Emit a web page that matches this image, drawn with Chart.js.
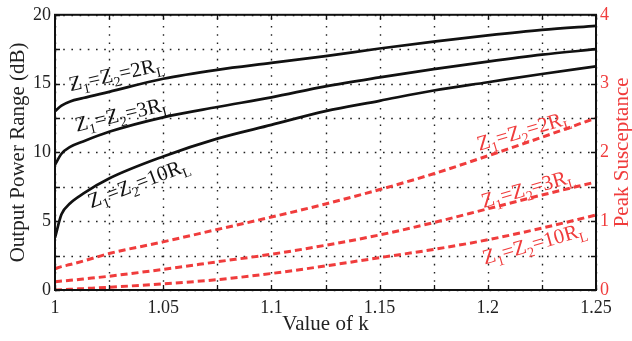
<!DOCTYPE html>
<html>
<head>
<meta charset="utf-8">
<script src="https://cdn.jsdelivr.net/npm/chart.js@4.4.1/dist/chart.umd.min.js"></script>
<style>
  body { margin: 0; background: #fff; }
  canvas { display: block; }
</style>
</head>
<body>
<canvas id="myChart" width="632" height="341"></canvas>
<script>
// sample points of k
const kValues = [1, 1.003, 1.007, 1.013, 1.025, 1.05, 1.075, 1.1, 1.125, 1.15, 1.175, 1.2, 1.225, 1.25]

// output power range (dB), left axis
const range2RL = [13.0, 13.4, 13.7, 13.95, 14.4, 15.35, 16.0, 16.5, 17.0, 17.55, 18.05, 18.5, 18.9, 19.2]
const range3RL = [9.1, 9.9, 10.4, 10.8, 11.5, 12.55, 13.3, 14.0, 14.8, 15.45, 16.05, 16.6, 17.1, 17.5]
const range10RL = [3.8, 5.5, 6.3, 7.0, 8.1, 9.7, 11.0, 12.0, 13.0, 13.75, 14.5, 15.1, 15.7, 16.25]

// peak susceptance, right axis
const susc2RL = [0.31, 0.34, 0.37, 0.42, 0.53, 0.70, 0.88, 1.06, 1.25, 1.46, 1.69, 1.95, 2.22, 2.5]
const susc3RL = [0.12, 0.13, 0.14, 0.16, 0.2, 0.3, 0.41, 0.52, 0.65, 0.80, 0.98, 1.18, 1.38, 1.57]
const susc10RL = [0.0, 0.005, 0.01, 0.02, 0.04, 0.09, 0.15, 0.24, 0.35, 0.47, 0.59, 0.73, 0.9, 1.09]

const curveNames = ['Z_1=Z_2=2R_L', 'Z_1=Z_2=3R_L', 'Z_1=Z_2=10R_L']

const RED = '#f03c3c'
const FONT = "'Liberation Serif', 'Times New Roman', serif"

const toPoints = (ys) => kValues.map((k, i) => ({ x: k, y: ys[i] }))

function blackLine(ys) {
    return { data: toPoints(ys), yAxisID: 'y', borderColor: '#111', borderWidth: 2.7,
        pointRadius: 0, fill: false, cubicInterpolationMode: 'monotone' }
}
function redLine(ys) {
    return { data: toPoints(ys), yAxisID: 'y2', borderColor: RED, borderWidth: 3,
        borderDash: [7, 4], pointRadius: 0, fill: false, cubicInterpolationMode: 'monotone' }
}

// curve labels: anchor in data coords, angle in degrees
const labels = [
    { text: curveNames[0], k: 1.0282, v: 15.7, axis: 'y', angle: -12.6, color: '#111' },
    { text: curveNames[1], k: 1.031, v: 12.8, axis: 'y', angle: -13.3, color: '#111' },
    { text: curveNames[2], k: 1.0385, v: 7.8, axis: 'y', angle: -21, color: '#111' },
    { text: curveNames[0], k: 1.2165, v: 2.32, axis: 'y2', angle: -16.5, color: RED },
    { text: curveNames[1], k: 1.2185, v: 1.48, axis: 'y2', angle: -16, color: RED },
    { text: curveNames[2], k: 1.2215, v: 0.68, axis: 'y2', angle: -16, color: RED }
]

// draw text with "_x" subscripts
function drawRich(ctx, str, cx, cy, angle, size, color) {
    const parts = []
    for (let i = 0; i < str.length; i++) {
        if (str[i] === '_') { parts.push([str[i + 1], true]); i++ }
        else parts.push([str[i], false])
    }
    const subSize = Math.round(size * 0.66)
    let total = 0
    parts.forEach(p => {
        ctx.font = (p[1] ? subSize : size) + 'px ' + FONT
        p.push(ctx.measureText(p[0]).width)
        total += p[2]
    })
    ctx.save()
    ctx.translate(cx, cy)
    ctx.rotate(angle * Math.PI / 180)
    ctx.fillStyle = color
    ctx.textBaseline = 'alphabetic'
    let x = -total / 2
    parts.forEach(p => {
        ctx.font = (p[1] ? subSize : size) + 'px ' + FONT
        ctx.fillText(p[0], x, p[1] ? size * 0.58 : size * 0.33)
        x += p[2]
    })
    ctx.restore()
}

const framePlugin = {
    id: 'frame',
    beforeDatasetsDraw(chart) {
        // dotted grid
        const ctx = chart.ctx
        const a = chart.chartArea
        const xs = chart.scales.x, ys = chart.scales.y
        ctx.save()
        ctx.strokeStyle = '#222'
        ctx.lineWidth = 1.4
        ctx.setLineDash([1.6, 6.6])
        ctx.beginPath()
        xs.ticks.forEach(t => {
            const px = Math.round(xs.getPixelForValue(t.value)) + 0.5
            ctx.moveTo(px, a.bottom); ctx.lineTo(px, a.top)
        })
        ys.ticks.forEach(t => {
            const py = Math.round(ys.getPixelForValue(t.value)) + 0.5
            ctx.moveTo(a.left, py); ctx.lineTo(a.right, py)
        })
        ctx.stroke()
        ctx.restore()
    },
    afterDraw(chart) {
        const ctx = chart.ctx
        const a = chart.chartArea
        const xs = chart.scales.x, ys = chart.scales.y
        ctx.save()
        ctx.strokeStyle = '#111'
        ctx.lineWidth = 1.3
        const tl = 5
        ctx.beginPath()
        xs.ticks.forEach(t => {
            const px = Math.round(xs.getPixelForValue(t.value)) + 0.5
            ctx.moveTo(px, a.bottom); ctx.lineTo(px, a.bottom - tl)
            ctx.moveTo(px, a.top); ctx.lineTo(px, a.top + tl)
        })
        ys.ticks.forEach(t => {
            const py = Math.round(ys.getPixelForValue(t.value)) + 0.5
            ctx.moveTo(a.left, py); ctx.lineTo(a.left + tl, py)
            ctx.moveTo(a.right, py); ctx.lineTo(a.right - tl, py)
        })
        ctx.stroke()
        ctx.lineWidth = 2
        ctx.strokeRect(a.left, a.top, a.right - a.left, a.bottom - a.top)

        // curve labels
        labels.forEach(l => {
            const px = xs.getPixelForValue(l.k)
            const py = chart.scales[l.axis].getPixelForValue(l.v)
            drawRich(ctx, l.text, px, py, l.angle, 21, l.color)
        })

        // axis titles
        ctx.font = '21px ' + FONT
        ctx.textAlign = 'center'
        ctx.textBaseline = 'middle'
        const midY = (a.top + a.bottom) / 2
        ctx.fillStyle = '#222'
        ctx.save(); ctx.translate(18, midY); ctx.rotate(-Math.PI / 2)
        ctx.fillText('Output Power Range (dB)', 0, 0); ctx.restore()
        ctx.fillStyle = RED
        ctx.save(); ctx.translate(622, midY); ctx.rotate(-Math.PI / 2)
        ctx.fillText('Peak Susceptance', 0, 0); ctx.restore()
        ctx.fillStyle = '#222'
        ctx.fillText('Value of k', (a.left + a.right) / 2, 324)
        ctx.restore()
    }
}

const ctx = document.getElementById('myChart').getContext('2d')

const myChart = new Chart(ctx, {
    type: 'line',
    data: {
        datasets: [
            blackLine(range2RL), blackLine(range3RL), blackLine(range10RL),
            redLine(susc2RL), redLine(susc3RL), redLine(susc10RL)
        ]
    },
    options: {
        responsive: false,
        animation: false,
        layout: { padding: { top: 10 } },
        plugins: { legend: { display: false }, tooltip: { enabled: false } },
        scales: {
            x: {
                type: 'linear', min: 1, max: 1.25,
                ticks: {
                    stepSize: 0.025, autoSkip: false, maxRotation: 0, padding: 7,
                    color: '#222', font: { family: FONT, size: 18 },
                    callback: (v) => Math.round((v - 1) / 0.025) % 2 === 0 ? String(+v.toFixed(2)) : ''
                },
                grid: { display: false, drawTicks: false },
                border: { display: false },
                afterFit: (s) => { s.height = 51 }
            },
            y: {
                position: 'left', min: 0, max: 20,
                ticks: {
                    stepSize: 2.5, autoSkip: false, padding: 4,
                    color: '#222', font: { family: FONT, size: 18 },
                    callback: (v) => v % 5 === 0 ? String(v) : ''
                },
                grid: { display: false, drawTicks: false },
                border: { display: false },
                afterFit: (s) => { s.width = 55 }
            },
            y2: {
                position: 'right', min: 0, max: 4,
                ticks: {
                    stepSize: 0.5, autoSkip: false, padding: 4,
                    color: RED, font: { family: FONT, size: 18 },
                    callback: (v) => Number.isInteger(v) ? String(v) : ''
                },
                grid: { display: false, drawTicks: false },
                border: { display: false },
                afterFit: (s) => { s.width = 36 }
            }
        }
    },
    plugins: [framePlugin]
})
</script>
</body>
</html>
